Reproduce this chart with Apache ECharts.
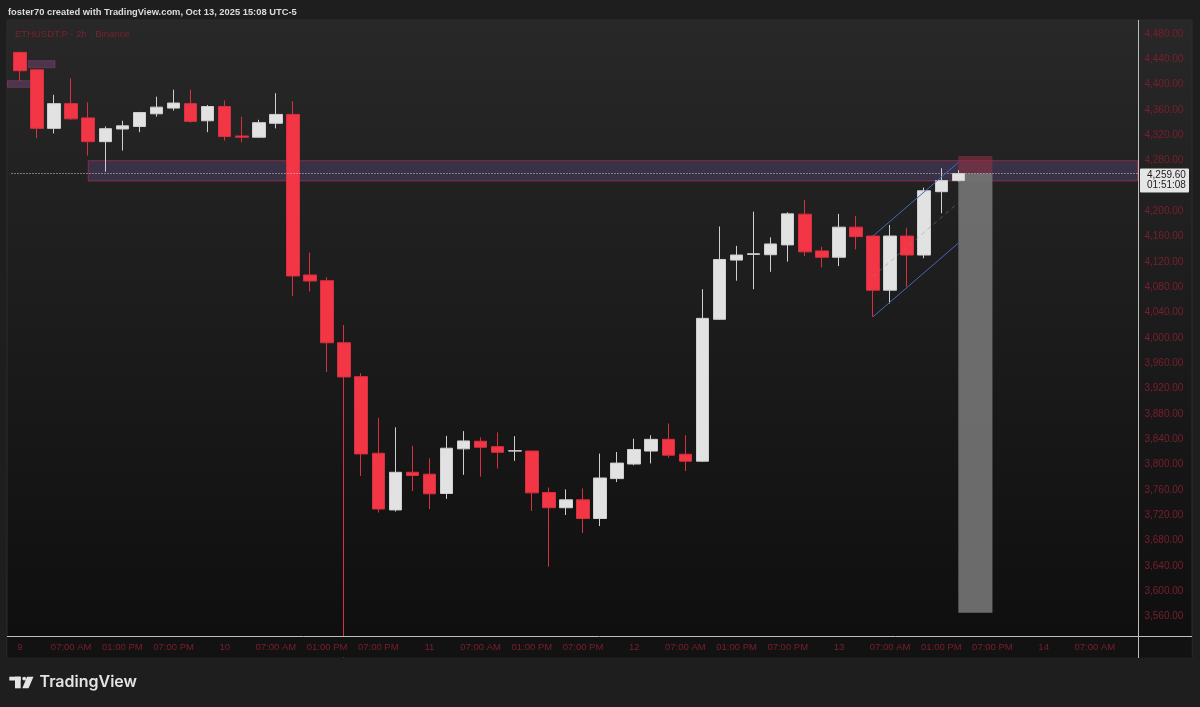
<!DOCTYPE html>
<html>
<head>
<meta charset="utf-8">
<script src="https://cdn.jsdelivr.net/npm/echarts@6/dist/echarts.min.js"></script>
<style>
html,body{margin:0;padding:0;background:#1e1e1e;}
#c{width:1200px;height:707px;}
</style>
</head>
<body>
<div id="c"></div>
<script>
// ---- time categories (2h bars, UTC-5) ----
const days = ['9', '10', '11', '12', '13', '14'];
const hours = ['01:00 AM','03:00 AM','05:00 AM','07:00 AM','09:00 AM','11:00 AM',
               '01:00 PM','03:00 PM','05:00 PM','07:00 PM','09:00 PM','11:00 PM'];
const xTickLabels = ['9','07:00 AM','01:00 PM','07:00 PM',
                     '10','07:00 AM','01:00 PM','07:00 PM',
                     '11','07:00 AM','01:00 PM','07:00 PM',
                     '12','07:00 AM','01:00 PM','07:00 PM',
                     '13','07:00 AM','01:00 PM','07:00 PM',
                     '14','07:00 AM'];
const yTickValues = [3560,3600,3640,3680,3720,3760,3800,3840,3880,3920,3960,4000,
                     4040,4080,4120,4160,4200,4240,4280,4320,4360,4400,4440,4480];

// ---- OHLC (ETHUSDT.P 2h) ----
const opens  = [4451,4423.5,4331,4370,4347.5,4310,4330,4334,4354,4363,4370,4343,4365.5,4319,4317,4339,
                4353,4099.5,4090.5,3992.5,3939,3818,3728.5,3788,3785,3754.5,3825,3837,3828.5,3821.5,
                3821.5,3756,3732,3744.5,3715,3778,3801,3821.5,3840,3816.5,3805.5,4029.5,4123,4132,
                4131.5,4147,4195.5,4137.5,4127.5,4175,4161,4075.5,4161,4131,4231,4248.5];
const closes = [4422,4331,4370,4346,4310,4330.5,4335,4356,4364.5,4371,4342,4365.5,4318,4317,4340,4353,
                4098,4090,3992.5,3938.5,3817,3730,3788,3783,3754,3826,3837.5,3827.5,3819.5,3822,
                3755.5,3732,3744.5,3715,3779,3802.5,3824,3840,3815,3805.5,4031,4124,4131,4133,
                4148.5,4196,4136,4127.5,4175,4160,4075.5,4161,4131,4232.5,4248.5,4259.6];
const lows   = [4406,4315.5,4323,4344,4288,4262.5,4296,4325,4349.5,4359,4340,4325,4311.5,4309,4316,4331,
                4066,4073.5,3946.5,3435,3782,3724.5,3726,3758.5,3730,3746,3784,3781,3794,3806,
                3727,3639,3720.5,3692,3703,3772.5,3799,3802,3811,3790,3804.5,4028.5,4090.5,4077,
                4104.5,4120.5,4129.5,4111.5,4113.5,4140,4033.5,4054.5,4081,4126,4197,4247];
const highs  = [4452,4424,4384,4410,4372,4334,4343,4357,4381,4392,4392,4368,4375,4349.5,4344.5,4386.5,
                4374,4135,4096,4020.5,3944.5,3874,3859,3830,3810,3845.5,3853,3843,3851,3845,
                3822,3764,3761,3762.5,3817.5,3820,3841,3846.5,3865,3846.5,4077,4176,4145.5,4199.5,
                4159,4198.5,4218,4144,4196,4192.5,4162,4178.5,4174,4237.5,4268,4265];

// ---- drawings ----
const supplyZone = [4248, 4280];          // purple band
const supplyZoneStart = 4;                // bar index where band starts
const oldZoneA = [4426.8, 4437.8];
const oldZoneAIdx = [0.49, 2.05];
const oldZoneB = [4395.8, 4406.3];
const oldZoneBEnd = 0.63;
const channelIdx = [50, 55];
const channelUpper = [4161, 4277.3];
const channelLower = [4033.5, 4149.8];
const channelMid = [4097.25, 4213.55];
const lastPrice = 4259.6;
const countdown = '01:51:08';
const positionIdx = [55, 57];
const stopLevel = 4287.4;
const targetLevel = 3566.3;

const cats = [];
days.forEach(d => hours.forEach(h => cats.push('Oct ' + d + ' ' + h)));
const categories = cats.slice(0, 66);
const candles = opens.map((o, i) => [o, closes[i], lows[i], highs[i]]);

const RED_TXT = '#7d1e2e';
const chart = echarts.init(document.getElementById('c'), null, {renderer: 'canvas'});

const option = {
  backgroundColor: '#1e1e1e',
  animation: false,
  grid: {left: 11.47, top: 20, width: 1126, height: 616, show: false},
  xAxis: {
    type: 'category', data: categories, boundaryGap: true, z: 45,
    axisLine: {show: false}, axisTick: {show: false}, splitLine: {show: false},
    axisLabel: {
      interval: 2, color: RED_TXT, fontSize: 9.5, fontFamily: 'Liberation Sans', margin: 6,
      formatter: (v, i) => (xTickLabels[i / 3] !== undefined ? xTickLabels[i / 3] : '')
    }
  },
  yAxis: {
    type: 'value', position: 'right', min: 3529.5, max: 4502.1, z: 45,
    axisLine: {show: false}, axisTick: {show: false}, splitLine: {show: false},
    axisLabel: {
      customValues: yTickValues, color: RED_TXT, fontSize: 10, fontFamily: 'Liberation Sans', margin: 7,
      formatter: v => Number(v).toLocaleString('en-US', {minimumFractionDigits: 2, maximumFractionDigits: 2})
    }
  },
  series: [{
    type: 'candlestick',
    data: candles,
    barWidth: 13,
    clip: true,
    itemStyle: {
      color: '#e2e2e2', borderColor: '#cfcfcf',
      color0: '#f23645', borderColor0: '#d9303f', borderWidth: 1
    },
    markArea: {
      silent: true,
      data: [
        [{xAxis: supplyZoneStart, yAxis: supplyZone[1],
          itemStyle: {color: 'rgba(100,78,135,0.36)', borderColor: 'rgba(160,45,80,0.75)', borderWidth: 1}},
         {yAxis: supplyZone[0]}],
        [{xAxis: positionIdx[0], yAxis: stopLevel,
          itemStyle: {color: 'rgba(150,50,70,0.55)', borderWidth: 0}},
         {xAxis: positionIdx[1], yAxis: lastPrice}],
        [{xAxis: positionIdx[0], yAxis: lastPrice,
          itemStyle: {color: 'rgba(120,120,120,0.88)', borderWidth: 0}},
         {xAxis: positionIdx[1], yAxis: targetLevel}]
      ]
    },
    markLine: {
      silent: true, symbol: ['none', 'none'], label: {show: false},
      data: [
        {yAxis: lastPrice, lineStyle: {color: '#cfcfcf', type: [1, 2], width: 1}},
        [{coord: [channelIdx[0], channelUpper[0]], lineStyle: {color: '#4866b8', type: 'solid', width: 1}},
         {coord: [channelIdx[1], channelUpper[1]]}],
        [{coord: [channelIdx[0], channelLower[0]], lineStyle: {color: '#4866b8', type: 'solid', width: 1}},
         {coord: [channelIdx[1], channelLower[1]]}],
        [{coord: [channelIdx[0], channelMid[0]], lineStyle: {color: 'rgba(130,140,170,0.5)', type: [4, 4], width: 1}},
         {coord: [channelIdx[1], channelMid[1]]}]
      ]
    }
  }]
};
chart.setOption(option);

// ---- overlays positioned through the axes ----
const px = i => chart.convertToPixel({xAxisIndex: 0}, categories[i]);
const bw = px(1) - px(0);
const xAt = f => px(0) + f * bw;
const yAt = v => chart.convertToPixel({yAxisIndex: 0}, v);

const py = yAt(lastPrice);
const zoneFill = 'rgba(110,72,120,0.5)';
const zoneStroke = 'rgba(150,60,95,0.55)';

chart.setOption({
  graphic: [
    // pane background
    {type: 'rect', z: -10, silent: true, shape: {x: 7, y: 20, width: 1185, height: 638},
     style: {fill: {type: 'linear', x: 0, y: 0, x2: 0, y2: 1,
       colorStops: [{offset: 0, color: '#282828'}, {offset: 1, color: '#0e0e0e'}]},
       stroke: '#2c2c2c', lineWidth: 1}},
    // covers below the plot (clip long wicks)
    {type: 'rect', z: 40, silent: true, shape: {x: 7.5, y: 637, width: 1184, height: 20.5},
     style: {fill: '#121212'}},
    {type: 'rect', z: 40, silent: true, shape: {x: 0, y: 658, width: 1200, height: 49},
     style: {fill: '#1e1e1e'}},
    // header
    {type: 'text', z: 10, silent: true,
     style: {x: 8, y: 12, text: 'foster70 created with TradingView.com, Oct 13, 2025 15:08 UTC-5',
       fill: '#dcdcdc', fontSize: 9.35, fontWeight: 'bold', fontFamily: 'Liberation Sans', verticalAlign: 'middle'}},
    // legend
    {type: 'text', z: 10, silent: true,
     style: {x: 15, y: 34, text: 'ETHUSDT.P · 2h · Binance', fill: '#7a2230',
       fontSize: 9.5, fontFamily: 'Liberation Sans', verticalAlign: 'middle'}},
    // old small zones top left
    {type: 'rect', z: 1, silent: true,
     shape: {x: xAt(oldZoneAIdx[0]), y: yAt(oldZoneA[1]), width: xAt(oldZoneAIdx[1]) - xAt(oldZoneAIdx[0]),
             height: yAt(oldZoneA[0]) - yAt(oldZoneA[1])},
     style: {fill: zoneFill, stroke: zoneStroke, lineWidth: 1}},
    {type: 'rect', z: 1, silent: true,
     shape: {x: 7.5, y: yAt(oldZoneB[1]), width: xAt(oldZoneBEnd) - 7.5,
             height: yAt(oldZoneB[0]) - yAt(oldZoneB[1])},
     style: {fill: zoneFill, stroke: zoneStroke, lineWidth: 1}},
    // scale borders
    {type: 'line', z: 50, silent: true, shape: {x1: 1138.5, y1: 20, x2: 1138.5, y2: 658},
     style: {stroke: '#bdbdbd', lineWidth: 1}},
    {type: 'line', z: 50, silent: true, shape: {x1: 7, y1: 636.5, x2: 1192, y2: 636.5},
     style: {stroke: '#bdbdbd', lineWidth: 1}},
    // last price label
    {type: 'rect', z: 60, silent: true, shape: {x: 1140, y: py - 5, width: 49, height: 24, r: 1},
     style: {fill: '#e6e6e6'}},
    {type: 'text', z: 61, silent: true,
     style: {x: 1147, y: py + 1.5, text: lastPrice.toLocaleString('en-US', {minimumFractionDigits: 2}),
       fill: '#1a1a1a', fontSize: 10, fontFamily: 'Liberation Sans', verticalAlign: 'middle'}},
    {type: 'text', z: 61, silent: true,
     style: {x: 1147, y: py + 12, text: countdown,
       fill: '#1a1a1a', fontSize: 10, fontFamily: 'Liberation Sans', verticalAlign: 'middle'}},
    // TradingView logo
    {type: 'rect', z: 50, silent: true, shape: {x: 9.3, y: 676.7, width: 11.4, height: 3.8},
     style: {fill: '#e4e4e4'}},
    {type: 'rect', z: 50, silent: true, shape: {x: 15, y: 676.7, width: 5.7, height: 11.6},
     style: {fill: '#e4e4e4'}},
    {type: 'circle', z: 50, silent: true, shape: {cx: 24.2, cy: 678.6, r: 1.9},
     style: {fill: '#e4e4e4'}},
    {type: 'polygon', z: 50, silent: true,
     shape: {points: [[27, 676.7], [33.5, 676.7], [28.5, 688.3], [22.3, 688.3]]},
     style: {fill: '#e4e4e4'}},
    {type: 'text', z: 50, silent: true,
     style: {x: 39.5, y: 682.5, text: 'TradingView', fill: '#e4e4e4',
       fontSize: 16, fontWeight: 600, fontFamily: 'Inter', verticalAlign: 'middle'}}
  ]
});
</script>
</body>
</html>
